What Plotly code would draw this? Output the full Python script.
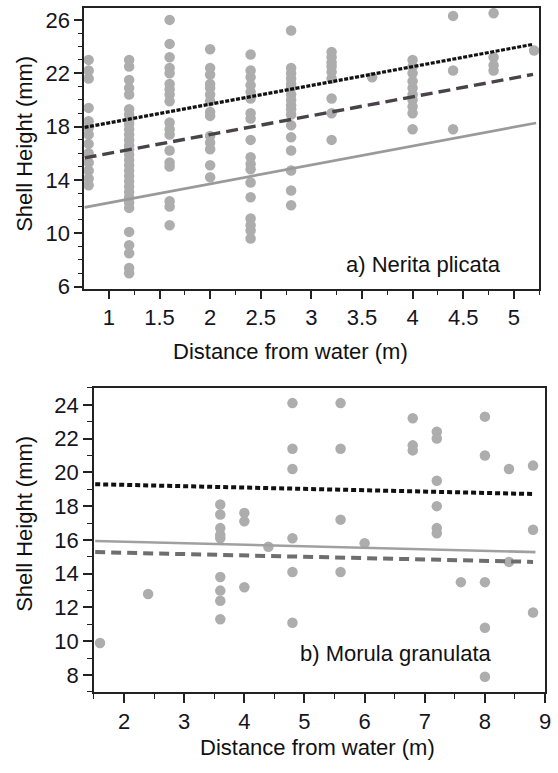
import plotly.graph_objects as go

W, H = 558, 773
FONT = "Liberation Sans, Arial, Helvetica, sans-serif"

# ---- Panel a) Nerita plicata ----
nerita_dist = [0.8, 1.2, 1.6, 2.0, 2.4, 2.8, 3.2, 3.6, 4.0, 4.4, 4.8, 5.2]
nerita_heights = [
    [23.0, 22.2, 21.6, 19.4, 18.4, 17.9, 17.4, 16.7, 16.0, 15.3, 14.7, 14.1, 13.6],
    [23.0, 22.5, 21.5, 20.9, 20.4, 19.3, 18.9, 18.5, 18.2, 17.8, 17.4, 17.0, 16.6, 16.3,
     15.9, 15.5, 15.1, 14.7, 14.3, 13.9, 13.5, 13.1, 12.7, 12.3, 11.9, 10.1, 9.1, 8.5, 7.4, 7.0],
    [26.0, 24.2, 23.2, 22.4, 22.0, 21.2, 20.8, 20.4, 19.9, 18.3, 17.8, 17.4, 16.2, 15.3, 15.0, 12.4, 12.0, 10.6],
    [23.8, 22.4, 21.9, 21.2, 20.9, 20.4, 19.9, 19.1, 18.8, 17.3, 16.8, 16.3, 15.1, 14.2],
    [23.4, 22.2, 21.7, 21.1, 20.6, 20.1, 19.0, 18.6, 17.0, 15.7, 15.2, 14.8, 13.8, 12.7, 11.1, 10.6, 10.2, 9.6],
    [25.2, 22.4, 22.0, 21.6, 21.2, 20.9, 20.4, 20.0, 19.6, 19.3, 18.9, 18.1, 17.2, 16.2, 14.7, 13.2, 12.1],
    [23.6, 23.2, 22.8, 22.5, 22.1, 21.6, 20.1, 19.0, 17.0],
    [21.7],
    [23.0, 22.5, 22.0, 21.4, 20.9, 20.4, 20.0, 19.5, 19.0, 17.8],
    [26.3, 22.2, 17.8],
    [26.5, 23.2, 22.6, 22.2],
    [23.7],
]
nerita_fit_names = ["dotted", "dashed", "solid"]
nerita_fit_intercept = [16.87, 14.57, 10.86]
nerita_fit_slope = [1.406, 1.415, 1.42]
nerita_fit_xrange = [[0.76, 5.19], [0.76, 5.19], [0.76, 5.22]]

# ---- Panel b) Morula granulata ----
morula_dist = [1.6, 2.4, 3.6, 4.0, 4.4, 4.8, 5.6, 6.0, 6.8, 7.2, 7.6, 8.0, 8.4, 8.8]
morula_heights = [
    [9.9],
    [12.8],
    [18.1, 17.5, 16.7, 16.3, 16.1, 13.8, 13.0, 12.4, 11.3],
    [17.6, 17.1, 13.2],
    [15.6],
    [24.1, 21.4, 20.2, 16.1, 14.1, 11.1],
    [24.1, 21.4, 17.2, 14.1],
    [15.8],
    [23.2, 21.6, 21.3],
    [22.4, 22.0, 19.5, 18.0, 16.7, 16.4],
    [13.5],
    [23.3, 21.0, 13.5, 10.8, 7.9],
    [20.2, 14.7],
    [20.4, 16.6, 11.7],
]
morula_fit_names = ["dotted", "solid", "dashed"]
morula_fit_intercept = [19.42, 16.075, 15.40]
morula_fit_slope = [-0.0797, -0.09, -0.0795]
morula_fit_xrange = [[1.52, 8.8], [1.52, 8.84], [1.52, 8.8]]

top_x_ticks = [1, 1.5, 2, 2.5, 3, 3.5, 4, 4.5, 5]
top_y_ticks = [6, 10, 14, 18, 22, 26]
bot_x_ticks = [2, 3, 4, 5, 6, 7, 8, 9]
bot_y_ticks = [8, 10, 12, 14, 16, 18, 20, 22, 24]

line_styles = {
    "a": {
        "dotted": dict(color="#111111", width=3.2, dash="4px,1.5px"),
        "dashed": dict(color="#4a4249", width=3.4, dash="12px,6px"),
        "solid": dict(color="#9a9a9a", width=2.6),
    },
    "b": {
        "dotted": dict(color="#111111", width=4, dash="5px,3px"),
        "dashed": dict(color="#6e6e6e", width=4, dash="10px,6px"),
        "solid": dict(color="#a0a0a0", width=2.6),
    },
}

fig = go.Figure()

def add_panel(dists, heights, names, icpt, slope, xr, xa, ya, key):
    xs, ys = [], []
    for d, hs in zip(dists, heights):
        xs += [d] * len(hs)
        ys += hs
    fig.add_trace(go.Scatter(x=xs, y=ys, mode="markers", xaxis=xa, yaxis=ya,
                             marker=dict(color="#adadad", size=10.5, line=dict(width=0)),
                             showlegend=False, hoverinfo="skip"))
    for n, b, m, (x0, x1) in zip(names, icpt, slope, xr):
        fig.add_trace(go.Scatter(x=[x0, x1], y=[b + m * x0, b + m * x1], mode="lines",
                                 xaxis=xa, yaxis=ya, line=line_styles[key][n],
                                 showlegend=False, hoverinfo="skip"))

add_panel(nerita_dist, nerita_heights, nerita_fit_names, nerita_fit_intercept,
          nerita_fit_slope, nerita_fit_xrange, "x", "y", "a")
add_panel(morula_dist, morula_heights, morula_fit_names, morula_fit_intercept,
          morula_fit_slope, morula_fit_xrange, "x2", "y2", "b")

def px(x):
    return x / W

def py(y):
    return 1 - y / H

tickfont = dict(family=FONT, size=22, color="#15151f")
axis_common = dict(showline=True, linecolor="#222222", linewidth=1.6, mirror=True,
                   ticks="outside", tickcolor="#222222", tickwidth=1.6,
                   showgrid=False, zeroline=False, tickfont=tickfont)

fig.update_layout(
    width=W, height=H, margin=dict(l=0, r=0, t=0, b=0),
    paper_bgcolor="white", plot_bgcolor="white",
    xaxis=dict(domain=[px(85), px(545)], range=[0.755, 5.25], anchor="y",
               tickvals=top_x_ticks, ticklen=8,
               minor=dict(dtick=0.25, tick0=0, ticks="outside", ticklen=4,
                          tickcolor="#222222", tickwidth=1.4),
               **axis_common),
    yaxis=dict(domain=[py(293), py(8)], range=[5.8, 26.9], anchor="x",
               tickvals=top_y_ticks, ticklen=8,
               minor=dict(dtick=1, tick0=0, ticks="outside", ticklen=4,
                          tickcolor="#222222", tickwidth=1.4),
               **axis_common),
    xaxis2=dict(domain=[px(95), px(551)], range=[1.5, 9.0], anchor="y2",
                tickvals=bot_x_ticks, ticklen=9,
                minor=dict(dtick=0.5, tick0=0, ticks="outside", ticklen=5,
                           tickcolor="#222222", tickwidth=1.4),
                **axis_common),
    yaxis2=dict(domain=[py(701), py(393)], range=[7.0, 25.0], anchor="x2",
                tickvals=bot_y_ticks, ticklen=9,
                minor=dict(dtick=1, tick0=0, ticks="outside", ticklen=5,
                           tickcolor="#222222", tickwidth=1.4),
                **axis_common),
)

labfont = dict(family=FONT, size=22, color="#111111")
ann = [
    dict(text="Shell Height (mm)", x=px(24), y=py(146), textangle=-90),
    dict(text="Shell Height (mm)", x=px(24), y=py(531), textangle=-90),
    dict(text="Distance from water (m)", x=px(294), y=py(356), textangle=0),
    dict(text="Distance from water (m)", x=px(321), y=py(757), textangle=0),
    dict(text="a) Nerita plicata", x=px(428), y=py(268), textangle=0),
    dict(text="b) Morula granulata", x=px(400), y=py(662), textangle=0),
]
for a in ann:
    fig.add_annotation(xref="paper", yref="paper", showarrow=False,
                       xanchor="center", yanchor="middle", font=labfont, **a)

fig.write_html("out.html")
